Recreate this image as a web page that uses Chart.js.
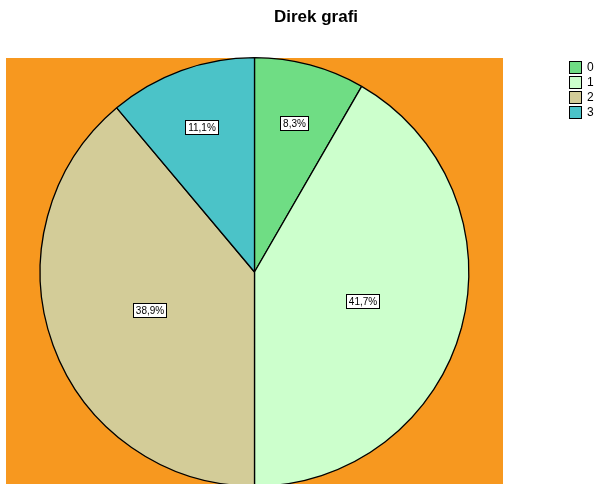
<!DOCTYPE html>
<html>
<head>
<meta charset="utf-8">
<script src="https://cdn.jsdelivr.net/npm/chart.js@4/dist/chart.umd.min.js"></script>
<style>
html,body{margin:0;padding:0;background:#fff;}
#wrap{width:596px;height:488px;position:relative;}
</style>
</head>
<body>
<div id="wrap"><canvas id="c" width="596" height="488"></canvas></div>
<script>
const titleText = "Direk grafi";
const categories = ["0", "1", "2", "3"];
const counts = [3, 15, 14, 4];
const percentLabels = ["8,3%", "41,7%", "38,9%", "11,1%"];
const sliceColors = ["#6fdd84", "#ccffcc", "#d3cc98", "#4bc3c8"];
const plotBackground = "#f7981f";

const decorPlugin = {
  id: 'decor',
  beforeDraw(chart) {
    const ctx = chart.ctx, a = chart.chartArea;
    ctx.save();
    ctx.fillStyle = plotBackground;
    ctx.fillRect(a.left, a.top + 1, a.right - a.left, a.bottom - a.top - 4);
    ctx.restore();
  },
  afterDraw(chart) {
    const ctx = chart.ctx;
    ctx.save();
    ctx.fillStyle = "#ffffff";
    ctx.fillRect(0, chart.chartArea.bottom - 3, chart.width, 10);
    // title
    ctx.fillStyle = "#000";
    ctx.font = "bold 17px 'Liberation Sans', Arial, sans-serif";
    ctx.textAlign = "center";
    ctx.textBaseline = "middle";
    ctx.fillText(titleText, 316, 17);
    // slice labels
    const meta = chart.getDatasetMeta(0);
    const total = counts.reduce((s, v) => s + v, 0);
    ctx.font = "10px 'Liberation Sans', Arial, sans-serif";
    meta.data.forEach((arc, i) => {
      const p = arc.getProps(['x', 'y', 'startAngle', 'endAngle', 'outerRadius'], true);
      const mid = (p.startAngle + p.endAngle) / 2;
      const small = counts[i] / total < 0.15;
      const frac = small ? 0.72 : 0.52;
      const x = p.x + Math.cos(mid) * p.outerRadius * frac;
      const y = p.y + Math.sin(mid) * p.outerRadius * frac;
      const t = percentLabels[i];
      const w = Math.round(ctx.measureText(t).width + 5);
      const h = 14;
      const bx = Math.round(x - w / 2) + 0.5, by = Math.round(y - h / 2) + 0.5;
      ctx.fillStyle = "#fff";
      ctx.fillRect(bx, by, w, h);
      ctx.strokeStyle = "#000";
      ctx.lineWidth = 1;
      ctx.strokeRect(bx, by, w, h);
      ctx.fillStyle = "#000";
      ctx.fillText(t, bx + w / 2, by + h / 2 + 0.5);
    });
    // legend
    ctx.font = "12px 'Liberation Sans', Arial, sans-serif";
    ctx.textAlign = "left";
    categories.forEach((c, i) => {
      const bx = 569.5, by = 61.5 + i * 15;
      ctx.fillStyle = sliceColors[i];
      ctx.fillRect(bx, by, 12, 12);
      ctx.strokeStyle = "#000";
      ctx.lineWidth = 1;
      ctx.strokeRect(bx, by, 12, 12);
      ctx.fillStyle = "#000";
      ctx.fillText(c, 587, by + 6.5);
    });
    ctx.restore();
  }
};

new Chart(document.getElementById('c'), {
  type: 'pie',
  data: {
    labels: categories,
    datasets: [{
      data: counts,
      backgroundColor: sliceColors,
      borderColor: "#000",
      borderWidth: 1.3,
      hoverOffset: 0
    }]
  },
  options: {
    responsive: false,
    animation: false,
    events: [],
    layout: { padding: { left: 6, right: 93, top: 57, bottom: 1 } },
    plugins: {
      legend: { display: false },
      title: { display: false },
      tooltip: { enabled: false }
    }
  },
  plugins: [decorPlugin]
});
</script>
</body>
</html>
